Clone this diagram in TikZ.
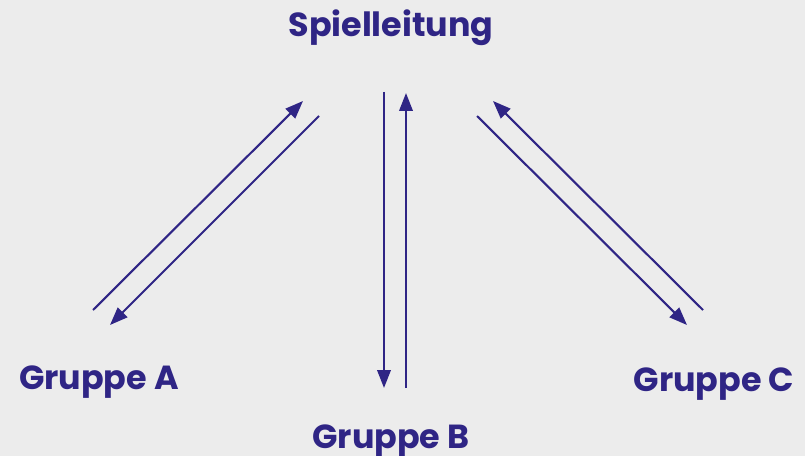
\documentclass[tikz,border=0pt]{standalone}
\usepackage{fontspec}
\setmainfont{Poppins}
\usetikzlibrary{arrows.meta,positioning}
\definecolor{spielblau}{HTML}{2F2585}
\definecolor{hinterg}{HTML}{ECECEC}

\begin{document}
\begin{tikzpicture}[
    x=0.02cm, y=-0.02cm,
    every node/.style={font=\fontsize{19}{22}\selectfont\bfseries, text=spielblau, inner sep=0pt, anchor=base},
    pfeil/.style={line width=1.2pt, spielblau, -{Triangle[length=0.36cm, width=0.27cm]}},
]

% Background
\fill[hinterg] (0,0) rectangle (805,456);
\useasboundingbox (0,0) rectangle (805,456);

% Labels
\node (spiel) at (391,37) {Spielleitung};
\node (gruppeA) at (99,389) {Gruppe A};
\node (gruppeB) at (391,448) {Gruppe B};
\node (gruppeC) at (714,391) {Gruppe C};

% Arrow end points
\coordinate (a1) at (93,310);  \coordinate (s1) at (303,101);
\coordinate (s2) at (319,116); \coordinate (a2) at (110,325);
\coordinate (s3) at (384,92);  \coordinate (b1) at (384,388);
\coordinate (b2) at (406,388); \coordinate (s4) at (406,93);
\coordinate (c1) at (703,310); \coordinate (s5) at (493,101);
\coordinate (s6) at (477,116); \coordinate (c2) at (687,325);

% Arrows
\foreach \von/\nach in {a1/s1, s2/a2, s3/b1, b2/s4, c1/s5, s6/c2} {
    \draw[pfeil] (\von) -- (\nach);
}

\end{tikzpicture}
\end{document}
